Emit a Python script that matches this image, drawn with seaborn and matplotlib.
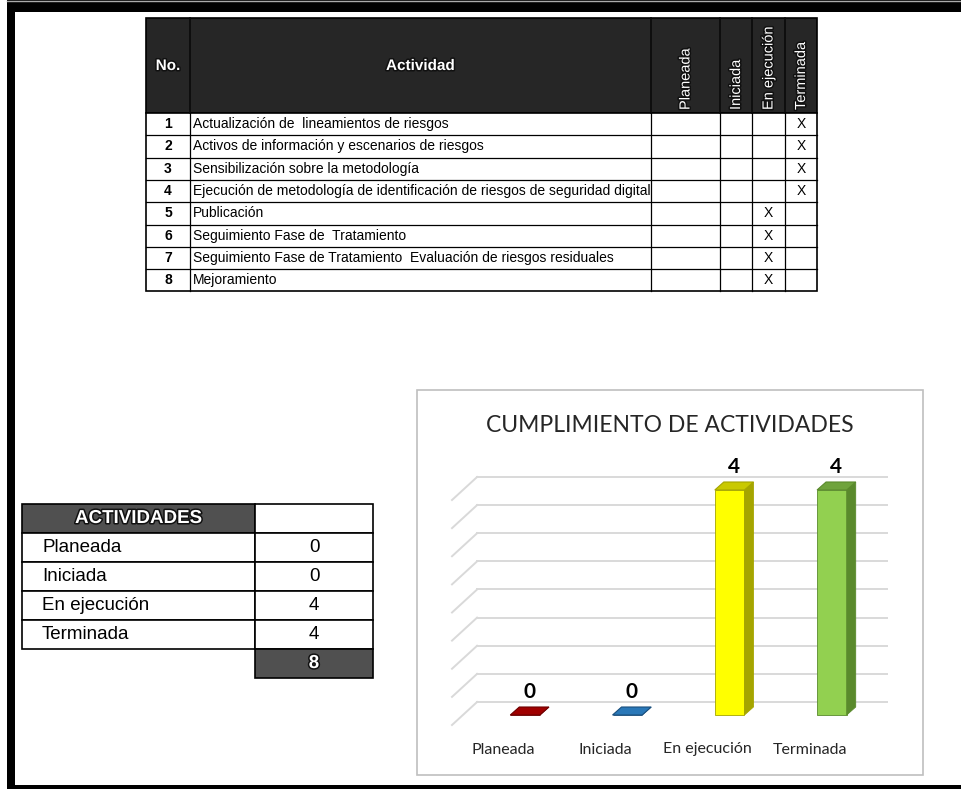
import numpy as np
import pandas as pd
import matplotlib
matplotlib.use("Agg")
import matplotlib.pyplot as plt
import matplotlib.patheffects as pe
import matplotlib.transforms as mtransforms
from matplotlib.patches import Rectangle, Polygon
import seaborn as sns

# ---------------------------------------------------------------
# data
# ---------------------------------------------------------------
estados = ["Planeada", "Iniciada", "En ejecución", "Terminada"]
conteo = [0, 0, 4, 4]

actividad_no = [1, 2, 3, 4, 5, 6, 7, 8]
actividades = [
    "Actualización de  lineamientos de riesgos",
    "Activos de información y escenarios de riesgos",
    "Sensibilización sobre la metodología",
    "Ejecución de metodología de identificación de riesgos de seguridad digital",
    "Publicación",
    "Seguimiento Fase de  Tratamiento",
    "Seguimiento Fase de Tratamiento  Evaluación de riesgos residuales",
    "Mejoramiento",
]
estado_actividad = ["Terminada", "Terminada", "Terminada", "Terminada",
                    "En ejecución", "En ejecución", "En ejecución", "En ejecución"]

color_frente = ["#A50010", "#2872B0", "#FFFF00", "#92D050"]
color_lado = ["#6E0000", "#1A4F7D", "#A5A500", "#5A8A2C"]
color_arriba = ["#A00000", "#2A78B8", "#C9C900", "#6FA33C"]

NARROW = ["Liberation Sans Narrow", "Liberation Sans", "DejaVu Sans"]
ARIAL = ["Liberation Sans", "DejaVu Sans"]
CALIBRI = ["Lato", "DejaVu Sans"]

W, H = 961, 789
fig = plt.figure(figsize=(W / 100, H / 100), dpi=100)
bg = fig.add_axes([0, 0, 1, 1])
bg.set_xlim(0, W)
bg.set_ylim(H, 0)
bg.axis("off")

glow = [pe.withStroke(linewidth=2.2, foreground="#111111")]

# ---------------------------------------------------------------
# frame of the page
# ---------------------------------------------------------------
bg.add_patch(Rectangle((7, 0), W - 7, 12, fc="black", ec="none"))
bg.add_patch(Rectangle((7, 0), 8, H, fc="black", ec="none"))
bg.add_patch(Rectangle((7, 785), W - 7, 4, fc="black", ec="none"))
bg.plot([7, W], [0.5, 0.5], color="#AAAAAA", lw=1)

# ---------------------------------------------------------------
# main table
# ---------------------------------------------------------------
cols = [146, 190, 651, 720, 752, 785, 817]
top, head_bottom, rh = 18, 113, 22.3
bg.add_patch(Rectangle((cols[0], top), cols[-1] - cols[0], head_bottom - top,
                       fc="#262626", ec="black", lw=1.2))
for x in cols[1:-1]:
    bg.plot([x, x], [top, head_bottom], color="#0A0A0A", lw=1.2)

bg.text((cols[0] + cols[1]) / 2, 66, "No.", color="white", fontsize=11,
        fontweight="bold", family=NARROW, ha="center", va="center", path_effects=glow)
bg.text((cols[1] + cols[2]) / 2, 66, "Actividad", color="white", fontsize=11,
        fontweight="bold", family=NARROW, ha="center", va="center", path_effects=glow)
for j, est in enumerate(estados):
    xc = (cols[j + 2] + cols[j + 3]) / 2
    bg.text(xc, 110, est, color="white", fontsize=10.5, family=ARIAL, rotation=90,
            ha="center", va="bottom", path_effects=glow)

bottom = head_bottom + rh * len(actividades)
bg.add_patch(Rectangle((cols[0], head_bottom), cols[-1] - cols[0], bottom - head_bottom,
                       fc="white", ec="black", lw=1.2))
for x in cols[1:-1]:
    bg.plot([x, x], [head_bottom, bottom], color="black", lw=0.9)
for i in range(1, len(actividades)):
    yl = head_bottom + rh * i
    bg.plot([cols[0], cols[-1]], [yl, yl], color="black", lw=0.9)

for i, (n, act, est) in enumerate(zip(actividad_no, actividades, estado_actividad)):
    yc = head_bottom + rh * (i + 0.5)
    bg.text((cols[0] + cols[1]) / 2, yc, str(n), fontsize=10, fontweight="bold",
            family=NARROW, ha="center", va="center")
    bg.text(cols[1] + 3, yc, act, fontsize=10, family=NARROW, ha="left", va="center")
    j = estados.index(est)
    bg.text((cols[j + 2] + cols[j + 3]) / 2, yc, "X", fontsize=10, family=NARROW,
            ha="center", va="center")

# ---------------------------------------------------------------
# summary table
# ---------------------------------------------------------------
tx = [22, 255, 373]
ty, trh = 504, 29
bg.add_patch(Rectangle((tx[0], ty), tx[1] - tx[0], trh, fc="#505050", ec="black", lw=1.2))
bg.add_patch(Rectangle((tx[1], ty), tx[2] - tx[1], trh, fc="white", ec="black", lw=1.2))
bg.text((tx[0] + tx[1]) / 2, ty + trh / 2, "ACTIVIDADES", color="white", fontsize=13.5,
        fontweight="bold", family=ARIAL, ha="center", va="center", path_effects=glow)
for i, (est, c) in enumerate(zip(estados, conteo)):
    y0 = ty + trh * (i + 1)
    bg.add_patch(Rectangle((tx[0], y0), tx[1] - tx[0], trh, fc="white", ec="black", lw=1.2))
    bg.add_patch(Rectangle((tx[1], y0), tx[2] - tx[1], trh, fc="white", ec="black", lw=1.2))
    bg.text(tx[0] + 20, y0 + trh / 2, est, fontsize=13.5, family=ARIAL, ha="left", va="center")
    bg.text((tx[1] + tx[2]) / 2, y0 + trh / 2, str(c), fontsize=13.5, family=ARIAL,
            ha="center", va="center")
y0 = ty + trh * 5
bg.add_patch(Rectangle((tx[1], y0), tx[2] - tx[1], trh, fc="#505050", ec="black", lw=1.2))
bg.text((tx[1] + tx[2]) / 2, y0 + trh / 2, str(sum(conteo)), color="white", fontsize=13.5,
        fontweight="bold", family=ARIAL, ha="center", va="center", path_effects=glow)

# ---------------------------------------------------------------
# chart box + title
# ---------------------------------------------------------------
bg.add_patch(Rectangle((417, 390), 506, 385, fc="white", ec="#BFBFBF", lw=1.2))
bg.text(670, 425, "CUMPLIMIENTO DE ACTIVIDADES", fontsize=16.5, family=CALIBRI,
        color="#262626", ha="center", va="center")

# ---------------------------------------------------------------
# 3D-looking bar chart
# ---------------------------------------------------------------
ax = fig.add_axes([474 / W, 1 - 730 / H, 409 / W, 270 / H])
ax.patch.set_alpha(0)
df = pd.DataFrame({"estado": estados, "conteo": conteo})
sns.barplot(data=df, x="estado", y="conteo", hue="estado", order=estados,
            hue_order=estados, palette=color_frente, saturation=1, width=0.29,
            legend=False, ax=ax, zorder=3)
ax.set_xlim(-0.5, 3.5)
ax.set_ylim(-0.2667, 4.5333)

px_x = 1 / 102.25
px_y = 1 / 56.25
dx, dy = 9 * px_x, 8 * px_y

# back wall grid (0 .. 4 every 0.5)
wall_dy = 13 * px_y
for v in np.arange(0, 4.01, 0.5):
    yb = v + wall_dy
    ax.plot([-0.47, 3.54], [yb, yb], color="#D9D9D9", lw=1.4, zorder=1, clip_on=False)
    ax.plot([-0.715, -0.47], [yb - 23 * px_y, yb], color="#D9D9D9", lw=1.4,
            zorder=1, clip_on=False)

for k, bar in enumerate(ax.patches):
    x0, w, h = bar.get_x(), bar.get_width(), bar.get_height()
    x1 = x0 + w
    bar.set_edgecolor(color_lado[k])
    bar.set_linewidth(0.6)
    side = Polygon([(x1, 0), (x1 + dx, dy), (x1 + dx, h + dy), (x1, h)],
                   fc=color_lado[k], ec=color_lado[k], lw=0.6, zorder=3)
    cap = Polygon([(x0, h), (x0 + dx, h + dy), (x1 + dx, h + dy), (x1, h)],
                  fc=color_arriba[k], ec=color_lado[k], lw=0.8, zorder=4)
    ax.add_patch(side)
    ax.add_patch(cap)
    ax.text(x0 + w / 2 + dx / 2, h + 0.41, f"{h:.0f}", fontsize=15, fontweight="bold",
            family=CALIBRI, ha="center", va="center", zorder=5)

ax.set_xlabel("")
ax.set_ylabel("")
ax.set_yticks([])
ax.tick_params(axis="x", length=0, pad=9)
for lab in ax.get_xticklabels():
    lab.set_fontfamily(CALIBRI)
    lab.set_fontsize(11.5)
    lab.set_color("#262626")
    lab.set_transform(lab.get_transform() +
                      mtransforms.ScaledTranslation(-22 / 100, 0, fig.dpi_scale_trans))
for s in ax.spines.values():
    s.set_visible(False)

fig.savefig("out.png", dpi=100)
